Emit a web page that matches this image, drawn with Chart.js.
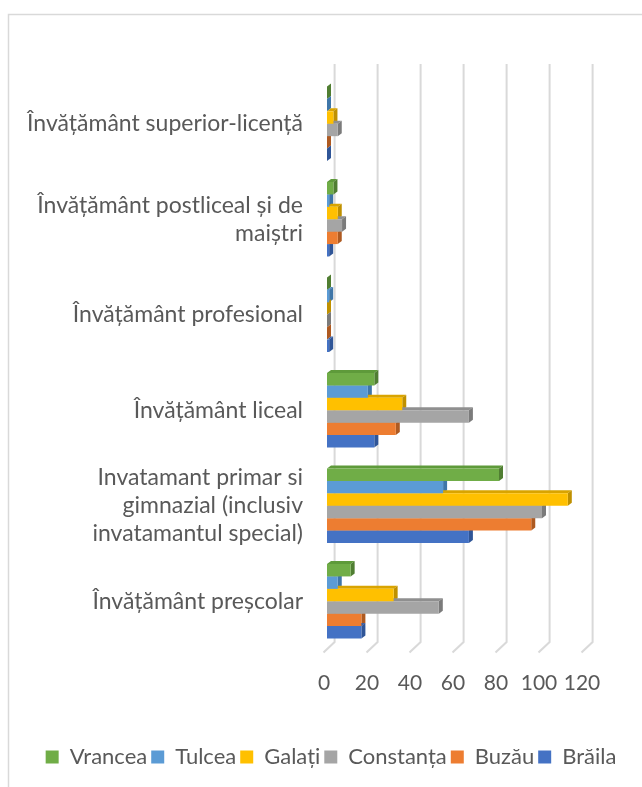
<!DOCTYPE html>
<html>
<head>
<meta charset="utf-8">
<script src="https://cdn.jsdelivr.net/npm/chart.js@4.4.1/dist/chart.umd.min.js"></script>
<style>
  html, body { margin: 0; padding: 0; background: #ffffff; }
  #wrap { position: relative; width: 642px; height: 787px; }
  canvas { display: block; }
</style>
</head>
<body>
<div id="wrap"><canvas id="c" width="642" height="787"></canvas></div>
<script>
// ---- data (top to bottom, as shown) ----
const categories = [
  ["Învățământ superior-licență"],
  ["Învățământ postliceal și de", "maiștri"],
  ["Învățământ profesional"],
  ["Învățământ liceal"],
  ["Invatamant primar si", "gimnazial (inclusiv", "invatamantul special)"],
  ["Învățământ preșcolar"]
];
const seriesNames = ["Vrancea", "Tulcea", "Galați", "Constanța", "Buzău", "Brăila"];
const vrancea   = [0, 3, 0, 22, 80, 11];
const tulcea    = [0, 1, 1, 19, 54, 5];
const galati    = [3, 5, 0, 35, 112, 31];
const constanta = [5, 7, 0, 66, 100, 52];
const buzau     = [0, 5, 0, 32, 95, 16];
const braila    = [0, 1, 1, 22, 66, 16];
const xTicks = [0, 20, 40, 60, 80, 100, 120];

const seriesValues = [vrancea, tulcea, galati, constanta, buzau, braila];
const frontColors = ["#70AD47", "#5B9BD5", "#FFC000", "#A5A5A5", "#ED7D31", "#4472C4"];
const sideColors  = ["#507E32", "#3F76A8", "#BF9000", "#7B7B7B", "#AE5A21", "#2F5597"];
const topColors   = ["#5E9A3A", "#4C88BE", "#D9A400", "#8F8F8F", "#C96A28", "#3A62AA"];

const TEXT = "#595959";
const DX = 4, DY = 3;

const framePlugin = {
  id: "frame",
  beforeDraw(chart) {
    const ctx = chart.ctx;
    ctx.save();
    ctx.fillStyle = "#ffffff";
    ctx.fillRect(0, 0, chart.width, chart.height);
    ctx.strokeStyle = "#d9d9d9";
    ctx.lineWidth = 1.5;
    ctx.beginPath();
    ctx.moveTo(8.5, chart.height);
    ctx.lineTo(8.5, 14.5);
    ctx.lineTo(chart.width, 14.5);
    ctx.stroke();
    ctx.restore();
  }
};

const depthPlugin = {
  id: "depth",
  beforeDatasetsDraw(chart) {
    const ctx = chart.ctx;
    const xs = chart.scales.x;
    const area = chart.chartArea;
    ctx.save();
    // 3D gridlines: back wall + floor slant
    ctx.strokeStyle = "#d9d9d9";
    ctx.lineWidth = 2;
    xTicks.forEach(v => {
      const px = xs.getPixelForValue(v);
      ctx.beginPath();
      ctx.moveTo(px + 7.6, area.top - 12);
      ctx.lineTo(px + 7.6, area.bottom - 7);
      ctx.lineTo(px - 3.5, area.bottom + 3.5);
      ctx.stroke();
    });
    // bar side & top faces
    chart.data.datasets.forEach((ds, di) => {
      const meta = chart.getDatasetMeta(di);
      meta.data.forEach(el => {
        const p = el.getProps(["x", "y", "base", "height"], true);
        const top = p.y - p.height / 2, bottom = p.y + p.height / 2;
        const x = Math.max(p.x, p.base), b = Math.min(p.x, p.base);
        ctx.fillStyle = topColors[di];
        ctx.beginPath();
        ctx.moveTo(b, top);
        ctx.lineTo(b + DX, top - DY);
        ctx.lineTo(x + DX, top - DY);
        ctx.lineTo(x, top);
        ctx.closePath();
        ctx.fill();
        ctx.fillStyle = sideColors[di];
        ctx.beginPath();
        ctx.moveTo(x, top);
        ctx.lineTo(x + DX, top - DY);
        ctx.lineTo(x + DX, bottom - DY);
        ctx.lineTo(x, bottom);
        ctx.closePath();
        ctx.fill();
      });
    });
    ctx.restore();
  }
};

new Chart(document.getElementById("c"), {
  type: "bar",
  data: {
    labels: categories,
    datasets: seriesNames.map((name, i) => ({
      label: name,
      data: seriesValues[i],
      backgroundColor: frontColors[i],
      borderWidth: 0,
      categoryPercentage: 0.78,
      barPercentage: 1.0
    }))
  },
  options: {
    indexAxis: "y",
    responsive: false,
    animation: false,
    devicePixelRatio: 1,
    layout: { padding: { left: 20, right: 0, top: 76, bottom: 9 } },
    plugins: {
      legend: {
        position: "bottom",
        labels: {
          boxWidth: 13,
          boxHeight: 13,
          padding: 4,
          color: TEXT,
          font: { family: "Lato", size: 22 }
        }
      },
      tooltip: { enabled: false }
    },
    scales: {
      x: {
        min: 0, max: 120,
        grid: { display: false, drawTicks: false },
        border: { display: false },
        afterBuildTicks(scale) { scale.ticks = xTicks.map(v => ({ value: v })); },
        afterFit(scale) { scale.height = 93; },
        ticks: {
          color: TEXT,
          padding: 22,
          labelOffset: -3,
          maxRotation: 0,
          minRotation: 0,
          autoSkip: false,
          font: { family: "Lato", size: 21 }
        }
      },
      y: {
        grid: { display: false, drawTicks: false },
        border: { display: false },
        afterFit(scale) { scale.width = 307; },
        ticks: {
          color: TEXT,
          padding: 24,
          font: { family: "Lato", size: 23, lineHeight: 1.22 }
        }
      },
      rightPad: {
        axis: "y",
        position: "right",
        display: true,
        grid: { display: false, drawTicks: false },
        border: { display: false },
        ticks: { display: false },
        afterFit(scale) { scale.width = 57; }
      }
    }
  },
  plugins: [framePlugin, depthPlugin]
});
</script>
</body>
</html>
